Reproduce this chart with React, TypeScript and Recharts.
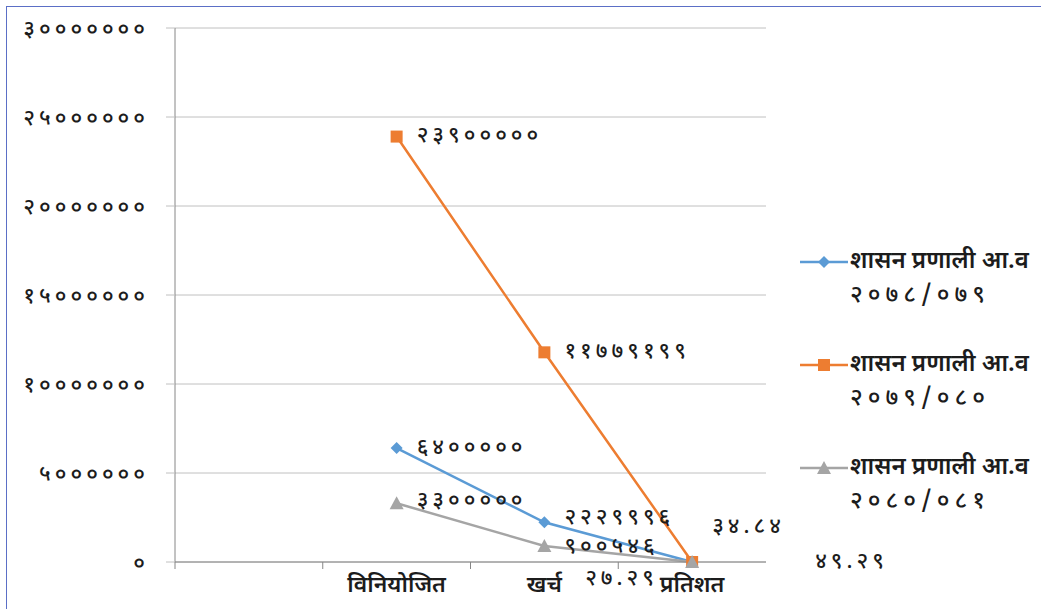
import React from "react";
import { LineChart, Line, XAxis, YAxis, CartesianGrid, Legend, LabelList } from "recharts";

const categories = ["", "विनियोजित", "खर्च", "प्रतिशत"];
const fy7879 = [null, 6400000, 2229996, 34.84];
const fy7980 = [null, 23900000, 11779199, 49.29];
const fy8081 = [null, 3300000, 900546, 27.29];
const yTicks = [0, 5000000, 10000000, 15000000, 20000000, 25000000, 30000000];
const legendTitle = "शासन प्रणाली आ.व";
const legendYears = ["२०७८/०७९", "२०७९/०८०", "२०८०/०८१"];

const data = categories.map((name, i) => ({
  name,
  a: fy7879[i],
  b: fy7980[i],
  c: fy8081[i],
}));

const FONT = "'Noto Sans Devanagari', Mangal, Lohit, 'Noto Sans', sans-serif";
const INK = "#1c1c1c";
const BAND = 147.75;

const series = [
  { key: "a", color: "#5B9BD5", shape: "diamond", year: legendYears[0] },
  { key: "b", color: "#ED7D31", shape: "square", year: legendYears[1] },
  { key: "c", color: "#A5A5A5", shape: "triangle", year: legendYears[2] },
];

// label nudges per series, per category index (Excel had them hand-placed)
const labelNudge: Record<string, [number, number][]> = {
  a: [[0, 0], [20, 0], [20, -4], [20, -34]],
  b: [[0, 0], [20, 0], [20, 0], [123, 1]],
  c: [[0, 0], [20, -2], [20, 2], [-107, 18]],
};

const DEV = "०१२३४५६७८९";
function toDev(v: number | string) {
  return String(v).replace(/[0-9]/g, (d) => DEV[Number(d)]);
}

function Marker({ shape, cx, cy, color }: { shape: string; cx: number; cy: number; color: string }) {
  if (shape === "diamond")
    return <polygon points={`${cx},${cy - 6} ${cx + 6},${cy} ${cx},${cy + 6} ${cx - 6},${cy}`} fill={color} />;
  if (shape === "square") return <rect x={cx - 6} y={cy - 6} width={12} height={12} fill={color} />;
  return <polygon points={`${cx},${cy - 7} ${cx + 7},${cy + 6} ${cx - 7},${cy + 6}`} fill={color} />;
}

function makeDot(shape: string, color: string) {
  return (props: any) => {
    const { cx, cy, index } = props;
    if (cx == null || cy == null || props.value == null) return <g key={`d${index}`} />;
    return (
      <g key={`d${index}`}>
        <Marker shape={shape} cx={cx} cy={cy} color={color} />
      </g>
    );
  };
}

function makeLabel(key: string) {
  return (props: any) => {
    const { x, y, value, index } = props;
    if (value == null || x == null) return null;
    const [dx, dy] = labelNudge[key][index] || [20, 0];
    return (
      <text
        x={x + dx}
        y={y + dy}
        dominantBaseline="central"
        fontSize={22}
        fontWeight={500}
        letterSpacing={4}
        fontFamily={FONT}
        fill={INK}
      >
        {toDev(value)}
      </text>
    );
  };
}

function CategoryTick(props: any) {
  const { x, y, payload } = props;
  return (
    <g>
      <line x1={x - BAND / 2} y1={y - 8} x2={x - BAND / 2} y2={y - 1} stroke="#868686" />
      <text
        x={x}
        y={y + 22}
        textAnchor="middle"
        fontSize={23}
        fontWeight={600}
        fontFamily={FONT}
        fill={INK}
      >
        {payload.value}
      </text>
    </g>
  );
}

function LegendBox() {
  return (
    <div style={{ fontFamily: FONT, color: INK, fontSize: 24, fontWeight: 600 }}>
      {series.map((s) => (
        <div key={s.key} style={{ display: "flex", height: 103 }}>
          <svg width={52} height={24} style={{ flex: "none" }}>
            <line x1={2} y1={12} x2={50} y2={12} stroke={s.color} strokeWidth={2.5} />
            <Marker shape={s.shape} cx={26} cy={12} color={s.color} />
          </svg>
          <div style={{ lineHeight: "34px", marginTop: -5, whiteSpace: "nowrap" }}>
            <div>{legendTitle}</div>
            <div style={{ fontWeight: 500, letterSpacing: 5 }}>{s.year}</div>
          </div>
        </div>
      ))}
    </div>
  );
}

export default function App() {
  return (
    <div style={{ position: "absolute", left: 0, top: 0, width: 1041, height: 609, background: "#fff" }}>
      <div
        style={{
          position: "absolute",
          left: 6,
          top: 6,
          right: 0,
          bottom: 0,
          borderLeft: "1px solid #5b6fc6",
          borderTop: "1px solid #5b6fc6",
        }}
      />
      <LineChart
        width={1041}
        height={609}
        data={data}
        margin={{ top: 28, right: 275, bottom: 7, left: 10 }}
        style={{ position: "absolute", left: 0, top: 0 }}
      >
        <CartesianGrid vertical={false} stroke="#c0c0c0" />
        <XAxis
          dataKey="name"
          scale="band"
          height={40}
          axisLine={{ stroke: "#868686" }}
          tickLine={false}
          interval={0}
          tick={<CategoryTick />}
        />
        <YAxis
          width={165}
          domain={[0, 30000000]}
          ticks={yTicks}
          axisLine={{ stroke: "#868686" }}
          tickLine={{ stroke: "#c0c0c0" }}
          tickSize={9}
          tickMargin={17}
          tickFormatter={(v: number) => toDev(v)}
          tick={{ fontSize: 22, fontWeight: 500, letterSpacing: 4, fontFamily: FONT, fill: INK }}
        />
        <Legend
          layout="vertical"
          align="center"
          verticalAlign="middle"
          wrapperStyle={{ left: 798, top: 250, width: 243 }}
          content={() => <LegendBox />}
        />
        {series.map((s) => (
          <Line
            key={s.key}
            dataKey={s.key}
            name={`${legendTitle} ${s.year}`}
            stroke={s.color}
            strokeWidth={2.5}
            dot={makeDot(s.shape, s.color)}
            activeDot={false}
            isAnimationActive={false}
          >
            <LabelList dataKey={s.key} content={makeLabel(s.key)} />
          </Line>
        ))}
      </LineChart>
    </div>
  );
}
